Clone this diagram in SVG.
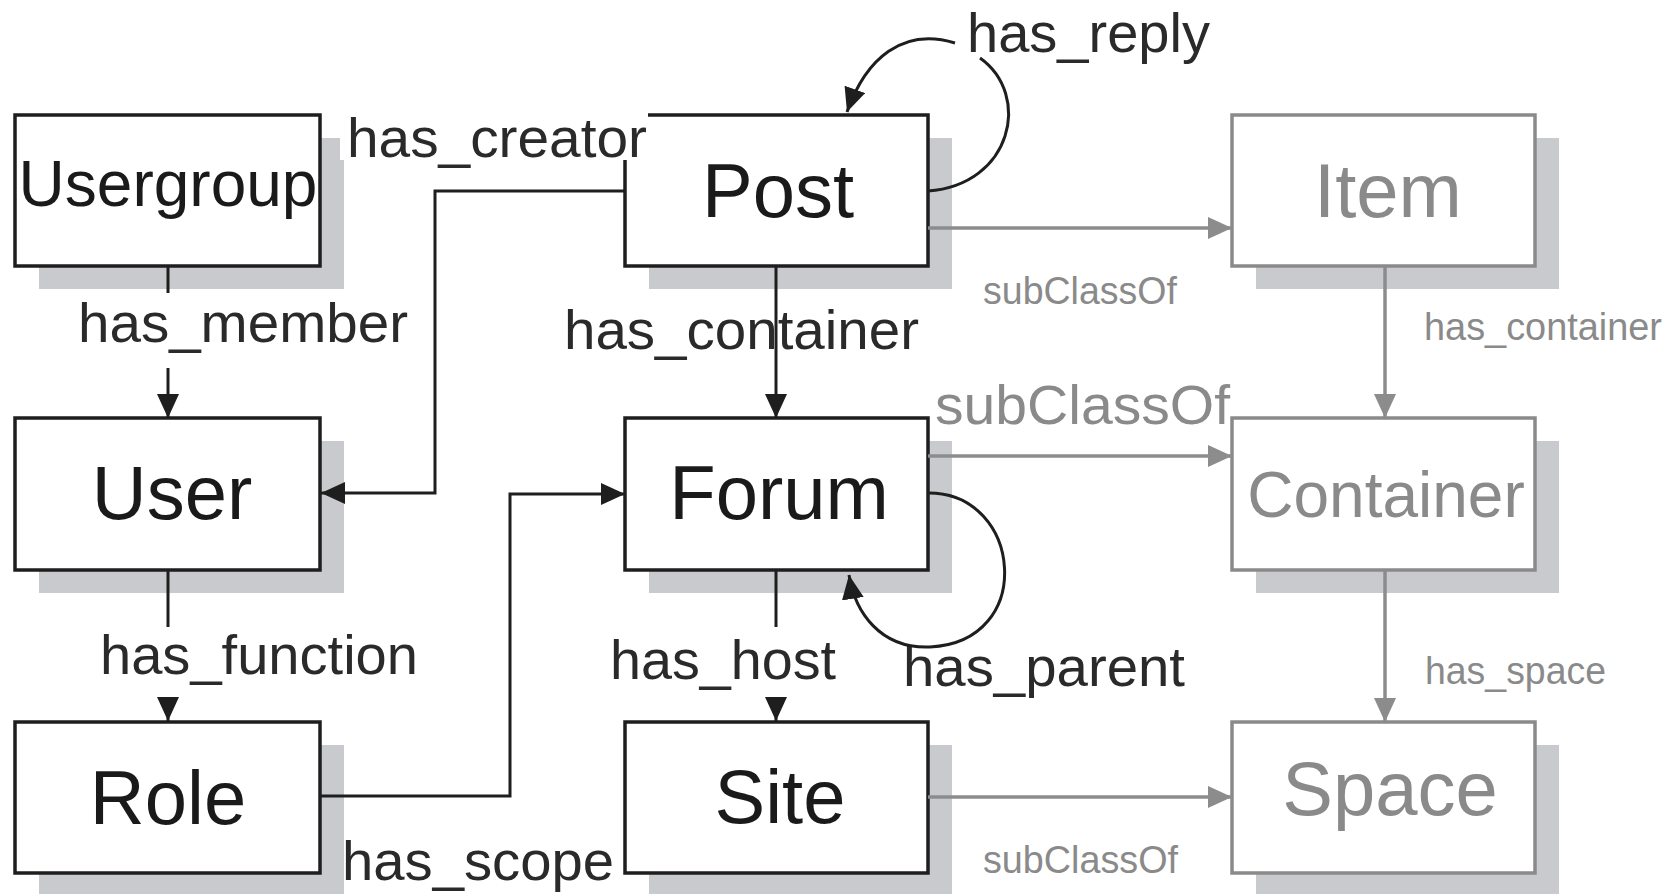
<svg xmlns="http://www.w3.org/2000/svg" width="1670" height="894" viewBox="0 0 1670 894">
<defs>
<style>
.shadow{fill:#c8cacd;stroke:none}
.box{fill:#fff;stroke:#1e1e1e;stroke-width:3.5}
.gbox{fill:#fff;stroke:#8a8a8a;stroke-width:3.5}
.t{font-family:"Liberation Sans",Arial,sans-serif;fill:#1a1a1a;text-anchor:middle}
.gt{font-family:"Liberation Sans",Arial,sans-serif;fill:#8a8a8a;text-anchor:middle}
.lbl{font-family:"Liberation Sans",Arial,sans-serif;font-size:55px;fill:#2a2a2a}
.glbl{font-family:"Liberation Sans",Arial,sans-serif;font-size:55px;fill:#8a8a8a}
.slbl{font-family:"Liberation Sans",Arial,sans-serif;font-size:38px;fill:#8a8a8a}
.ln{fill:none;stroke:#1e1e1e;stroke-width:3}
.gln{fill:none;stroke:#8c8c8c;stroke-width:3.5}
</style>
<marker id="ab" markerUnits="userSpaceOnUse" markerWidth="24" markerHeight="22" refX="24" refY="11" orient="auto">
<path d="M0,0 L24,11 L0,22 z" fill="#1e1e1e"/>
</marker>
<marker id="ag" markerUnits="userSpaceOnUse" markerWidth="24" markerHeight="22" refX="24" refY="11" orient="auto">
<path d="M0,0 L24,11 L0,22 z" fill="#8c8c8c"/>
</marker>
</defs>
<rect width="1670" height="894" fill="#fff"/>

<g id="node-usergroup">
<rect class="shadow" x="39" y="138" width="305" height="151"/>
<rect class="box" x="15" y="115" width="305" height="151"/>
<text class="t" x="168" y="206" font-size="64">Usergroup</text>
</g>
<g id="node-user">
<rect class="shadow" x="39" y="441" width="305" height="152"/>
<rect class="box" x="15" y="418" width="305" height="152"/>
<text class="t" x="172" y="519" font-size="76">User</text>
</g>
<g id="node-role">
<rect class="shadow" x="39" y="745" width="305" height="151"/>
<rect class="box" x="15" y="722" width="305" height="151"/>
<text class="t" x="168" y="824" font-size="76">Role</text>
</g>
<g id="node-post">
<rect class="shadow" x="649" y="138" width="303" height="151"/>
<rect class="box" x="625" y="115" width="303" height="151"/>
<text class="t" x="778" y="217" font-size="76">Post</text>
</g>
<g id="node-forum">
<rect class="shadow" x="649" y="441" width="303" height="152"/>
<rect class="box" x="625" y="418" width="303" height="152"/>
<text class="t" x="779" y="519" font-size="76">Forum</text>
</g>
<g id="node-site">
<rect class="shadow" x="649" y="745" width="303" height="151"/>
<rect class="box" x="625" y="722" width="303" height="151"/>
<text class="t" x="780" y="823" font-size="76">Site</text>
</g>
<g id="node-item">
<rect class="shadow" x="1256" y="138" width="303" height="151"/>
<rect class="gbox" x="1232" y="115" width="303" height="151"/>
<text class="gt" x="1388" y="217" font-size="76">Item</text>
</g>
<g id="node-container">
<rect class="shadow" x="1256" y="441" width="303" height="152"/>
<rect class="gbox" x="1232" y="418" width="303" height="152"/>
<text class="gt" x="1386" y="517" font-size="64">Container</text>
</g>
<g id="node-space">
<rect class="shadow" x="1256" y="745" width="303" height="151"/>
<rect class="gbox" x="1232" y="722" width="303" height="151"/>
<text class="gt" x="1390" y="815" font-size="76">Space</text>
</g>

<g id="connectors">
<rect x="340" y="110" width="308" height="50" fill="#fff"/>
<text class="lbl" x="347" y="157" textLength="300" lengthAdjust="spacingAndGlyphs">has_creator</text>
<text class="lbl" x="967" y="52" textLength="243" lengthAdjust="spacingAndGlyphs">has_reply</text>
<text class="lbl" x="78" y="342" textLength="330" lengthAdjust="spacingAndGlyphs">has_member</text>
<text class="lbl" x="564" y="349" textLength="355" lengthAdjust="spacingAndGlyphs">has_container</text>
<text class="glbl" x="935" y="424" textLength="295" lengthAdjust="spacingAndGlyphs">subClassOf</text>
<text class="lbl" x="100" y="674" textLength="318" lengthAdjust="spacingAndGlyphs">has_function</text>
<text class="lbl" x="610" y="679" textLength="226" lengthAdjust="spacingAndGlyphs">has_host</text>
<text class="lbl" x="903" y="686" textLength="282" lengthAdjust="spacingAndGlyphs">has_parent</text>
<text class="lbl" x="342" y="880" textLength="272" lengthAdjust="spacingAndGlyphs">has_scope</text>
<text class="slbl" x="983" y="304" textLength="194" lengthAdjust="spacingAndGlyphs">subClassOf</text>
<text class="slbl" x="1424" y="340" textLength="238" lengthAdjust="spacingAndGlyphs">has_container</text>
<text class="slbl" x="1425" y="684" textLength="181" lengthAdjust="spacingAndGlyphs">has_space</text>
<text class="slbl" x="983" y="873" textLength="195" lengthAdjust="spacingAndGlyphs">subClassOf</text>

<path class="ln" d="M168,266 V293"/>
<path class="ln" d="M168,368 V418" marker-end="url(#ab)"/>
<path class="ln" d="M168,570 V627"/>
<path class="ln" d="M168,697 V721" marker-end="url(#ab)"/>
<path class="ln" d="M776,266 V418" marker-end="url(#ab)"/>
<path class="ln" d="M776,570 V627"/>
<path class="ln" d="M776,697 V721" marker-end="url(#ab)"/>
<path class="ln" d="M625,191 H435 V493 H321" marker-end="url(#ab)"/>
<path class="ln" d="M321,796 H510 V494 H625" marker-end="url(#ab)"/>
<path class="ln" d="M928,191 C1012,185 1032,95 980,58"/>
<path class="ln" d="M955,43 C903,27 866,58 847,112" marker-end="url(#ab)"/>
<path class="ln" d="M929,493 C1022,493 1037,642 930,647 C880,649 855,612 849,575" marker-end="url(#ab)"/>

<path class="gln" d="M928,228 H1232" marker-end="url(#ag)"/>
<path class="gln" d="M928,456 H1232" marker-end="url(#ag)"/>
<path class="gln" d="M928,797 H1232" marker-end="url(#ag)"/>
<path class="gln" d="M1385,266 V418" marker-end="url(#ag)"/>
<path class="gln" d="M1385,570 V722" marker-end="url(#ag)"/>
</g>
</svg>
